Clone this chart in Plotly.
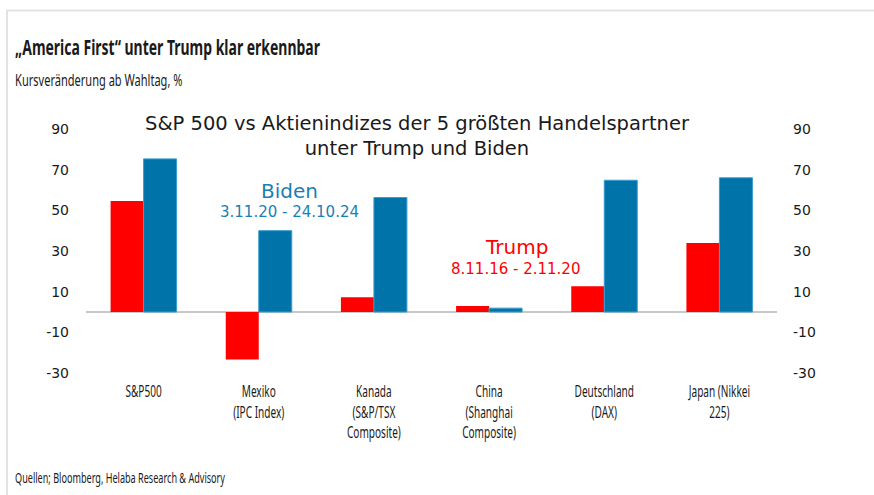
import plotly.graph_objects as go

categories = ["S&P500", "Mexiko<br>(IPC Index)", "Kanada<br>(S&P/TSX<br>Composite)",
              "China<br>(Shanghai<br>Composite)", "Deutschland<br>(DAX)", "Japan (Nikkei<br>225)"]
trump = [54.6, -23.3, 7.3, 2.9, 12.7, 33.9]
biden = [75.3, 40.0, 56.3, 1.9, 64.8, 66.0]
yticks = [-30, -10, 10, 30, 50, 70, 90]
yticklabels = ["-30", "-10", "10", "30", "50", "70", "90"]

W, H = 874, 495
L, R, T, B = 86, 97, 129, 122
PW, PH = W - L - R, H - T - B

def px(x):
    return (x - L) / PW

def py(y):
    return (H - B - y) / PH

RED = "#ff0000"
BLUE = "#0074a8"
NARROW = "Noto Sans"
SANS = "DejaVu Sans, Verdana, sans-serif"
INK = "#1a1a1a"

xs = list(range(len(categories)))

fig = go.Figure()
fig.add_trace(go.Bar(x=xs, y=trump, name="Trump", marker=dict(color=RED, line=dict(width=0))))
fig.add_trace(go.Bar(x=xs, y=biden, name="Biden",
                     marker=dict(color=BLUE, line=dict(width=1, color="#3a9ccf"))))
fig.add_trace(go.Scatter(x=xs, y=biden, yaxis="y2", mode="markers",
                         marker=dict(opacity=0), hoverinfo="skip", showlegend=False))

fig.update_layout(
    width=W, height=H,
    margin=dict(l=L, r=R, t=T, b=B, pad=0),
    paper_bgcolor="white", plot_bgcolor="white",
    showlegend=False,
    barmode="group", bargap=0.427, bargroupgap=0,
    xaxis=dict(tickmode="array", tickvals=xs, ticktext=categories,
               range=[-0.5, len(categories) - 0.5], showgrid=False, showline=False,
               zeroline=False, ticks="", tickfont=dict(family=NARROW, size=15.5, color=INK),
               ticklabelstandoff=8),
    yaxis=dict(range=[-30, 90], tickmode="array", tickvals=yticks, ticktext=yticklabels,
               showgrid=False, showline=False,
               zeroline=True, zerolinecolor="#c8c8c8", zerolinewidth=1.5, ticks="",
               tickfont=dict(family=SANS, size=14, color=INK), ticklabelstandoff=16),
    yaxis2=dict(range=[-30, 90], tickmode="array", tickvals=yticks, ticktext=yticklabels,
                overlaying="y", side="right",
                showgrid=False, showline=False, zeroline=False, ticks="",
                tickfont=dict(family=SANS, size=14, color=INK), ticklabelstandoff=15),
)

ann = [
    dict(text="<b>„America First“ unter Trump klar erkennbar</b>", x=px(13), y=py(47),
         xanchor="left", yanchor="middle", font=dict(family=NARROW, size=21.5, color=INK)),
    dict(text="Kursveränderung ab Wahltag, %", x=px(13), y=py(79),
         xanchor="left", yanchor="middle", font=dict(family=NARROW, size=17, color=INK)),
    dict(text="S&P 500 vs Aktienindizes der 5 größten Handelspartner<br>unter Trump und Biden",
         x=px(417), y=py(136), xanchor="center", yanchor="middle",
         font=dict(family=SANS, size=19.5, color=INK)),
    dict(text="Biden", x=px(289), y=py(191), xanchor="center", yanchor="middle",
         font=dict(family=SANS, size=20, color="#1a7fb4")),
    dict(text="3.11.20 - 24.10.24", x=px(289), y=py(212), xanchor="center", yanchor="middle",
         font=dict(family=SANS, size=15, color="#1a7fb4")),
    dict(text="Trump", x=px(516), y=py(247), xanchor="center", yanchor="middle",
         font=dict(family=SANS, size=20, color=RED)),
    dict(text="8.11.16 - 2.11.20", x=px(515), y=py(269), xanchor="center", yanchor="middle",
         font=dict(family=SANS, size=15, color=RED)),
    dict(text="Quellen; Bloomberg, Helaba Research & Advisory", x=px(13), y=py(477),
         xanchor="left", yanchor="middle", font=dict(family=NARROW, size=14, color=INK)),
]
for a in ann:
    a.update(xref="paper", yref="paper", showarrow=False, align="center")
fig.update_layout(annotations=ann)

fig.update_layout(shapes=[
    dict(type="line", xref="paper", yref="paper", x0=px(6), x1=px(874), y0=py(10.5), y1=py(10.5),
         line=dict(color="#e3e3e3", width=2)),
    dict(type="line", xref="paper", yref="paper", x0=px(7), x1=px(7), y0=py(10), y1=py(495),
         line=dict(color="#e3e3e3", width=2)),
])

# Emulate the condensed house font by narrowing the Noto Sans texts horizontally.
# Left-anchored annotations are narrowed about their left edge, tick labels about their centre.
post = """
var gd = document.getElementById('{plot_id}');
function narrow() {
  document.querySelectorAll('text').forEach(function (t) {
    if ((t.style.fontFamily || '').indexOf('Noto') < 0) { return; }
    var tr = t.getAttribute('transform') || '';
    if (tr.indexOf('scale(0.65') >= 0) { return; }
    var ox;
    if (t.classList.contains('annotation-text')) {
      ox = t.getBBox().x;
    } else {
      ox = parseFloat(t.getAttribute('x') || '0') || 0;
    }
    t.setAttribute('transform', tr + ' translate(' + ox + ',0) scale(0.65,1) translate(' + (-ox) + ',0)');
  });
}
narrow();
if (gd && gd.on) { gd.on('plotly_afterplot', narrow); }
setTimeout(narrow, 30);
setTimeout(narrow, 300);
"""

fig.write_html("out.html", post_script=post)
